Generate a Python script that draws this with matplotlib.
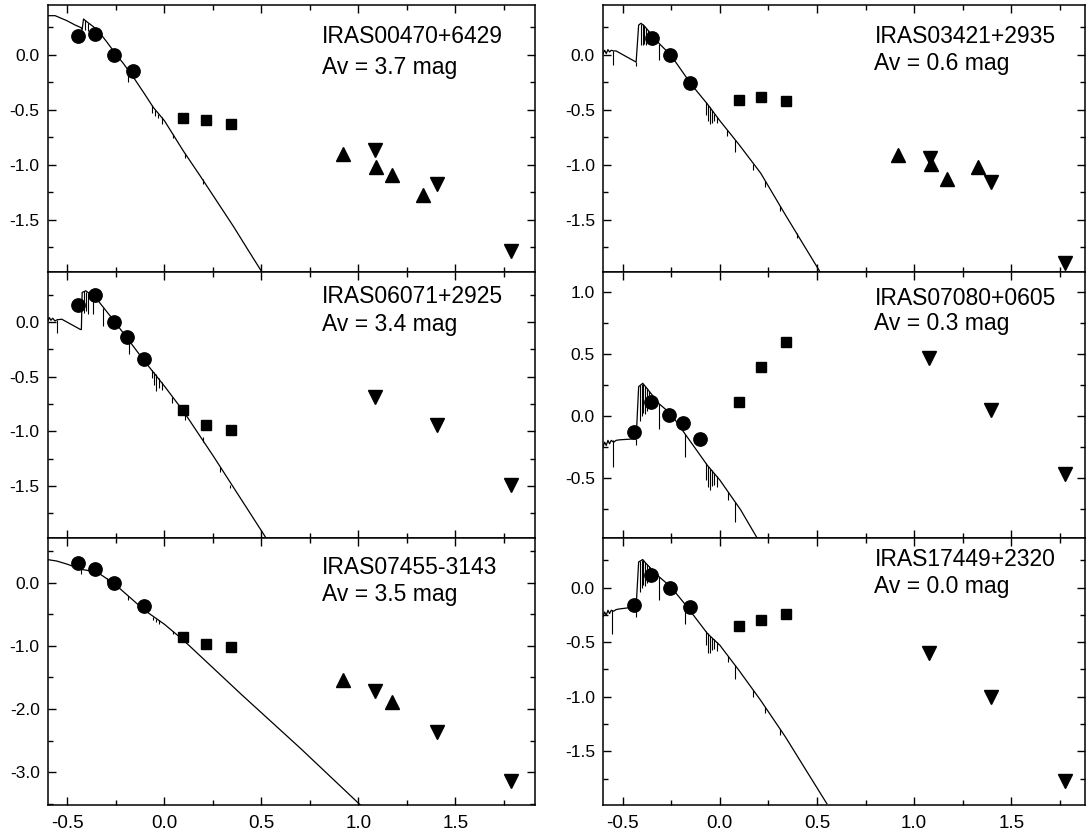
import numpy as np
import matplotlib
matplotlib.use('Agg')
import matplotlib.pyplot as plt
from matplotlib.ticker import MultipleLocator, FormatStrFormatter

plt.rcParams['font.family'] = ['Liberation Sans', 'DejaVu Sans']
plt.rcParams['axes.unicode_minus'] = False

# log(lambda) of the J, H, K bands
jhk_x = [0.097, 0.212, 0.342]

# ---------------- IRAS00470+6429 ----------------
opt1_x = [-0.443, -0.357, -0.259, -0.16]
opt1_y = [0.168, 0.19, 0.0, -0.15]
nir1_y = [-0.571, -0.593, -0.626]
up1_x = [0.923, 1.09, 1.172, 1.335]
up1_y = [-0.906, -1.02, -1.096, -1.273]
dn1_x = [1.086, 1.404, 1.786]
dn1_y = [-0.87, -1.176, -1.786]
mod1_x = [-0.60, -0.563, -0.503, -0.46, -0.43, -0.424, -0.417, -0.40, -0.366, -0.331,
          -0.297, -0.259, -0.211, -0.16, -0.108, -0.057, 0.0, 0.098, 0.184, 0.27,
          0.356, 0.43, 0.505]
mod1_y = [0.353, 0.353, 0.308, 0.268, 0.245, 0.225, 0.323, 0.298, 0.253, 0.192,
          0.115, 0.024, -0.082, -0.205, -0.342, -0.48, -0.60, -0.876, -1.10, -1.33,
          -1.56, -1.77, -1.98]
lin1_x = [-0.409, -0.392, -0.366, -0.186, -0.065, -0.05, -0.035, -0.014, 0.042, 0.105, 0.197]
lin1_top = [0.31, 0.285, 0.253, -0.14, -0.46, -0.50, -0.54, -0.565, -0.72, -0.89, -1.13]
lin1_bot = [0.22, 0.21, 0.21, -0.25, -0.53, -0.56, -0.58, -0.632, -0.76, -0.94, -1.17]

# ---------------- IRAS06071+2925 ----------------
opt2_x = [-0.446, -0.357, -0.259, -0.194, -0.103]
opt2_y = [0.153, 0.245, 0.0, -0.135, -0.342]
nir2_y = [-0.81, -0.945, -0.988]
dn2_x = [1.086, 1.404, 1.786]
dn2_y = [-0.688, -0.939, -1.495]
mod2_x = [-0.601, -0.593, -0.585, -0.576, -0.564, -0.553, -0.529, -0.435, -0.428, -0.424,
          -0.405, -0.348, -0.259, -0.194, -0.103, 0.0, 0.098, 0.253, 0.425, 0.525]
mod2_y = [0.009, 0.04, 0.015, 0.034, 0.009, 0.02, 0.025, -0.067, -0.07, 0.27,
          0.285, 0.208, 0.009, -0.144, -0.358, -0.587, -0.817, -1.23, -1.704, -1.98]
lin2_x = [-0.555, -0.414, -0.404, -0.392, -0.366, -0.314, -0.182, -0.065, -0.055, -0.045,
          -0.03, -0.015, 0.041, 0.106, 0.2, 0.286, 0.337]
lin2_top = [0.02, 0.28, 0.275, 0.265, 0.245, 0.13, -0.17, -0.44, -0.46, -0.48,
            -0.51, -0.55, -0.683, -0.835, -1.05, -1.33, -1.49]
lin2_bot = [-0.098, 0.085, 0.10, 0.07, 0.07, -0.037, -0.297, -0.51, -0.58, -0.63,
            -0.60, -0.62, -0.74, -0.90, -1.10, -1.37, -1.52]

# ---------------- IRAS07455-3143 ----------------
opt3_x = [-0.443, -0.357, -0.259, -0.103]
opt3_y = [0.316, 0.221, 0.0, -0.374]
nir3_y = [-0.859, -0.98, -1.017]
up3_x = [0.92, 1.172]
up3_y = [-1.54, -1.89]
dn3_x = [1.086, 1.404, 1.786]
dn3_y = [-1.72, -2.365, -3.14]
mod3_x = [-0.601, -0.555, -0.50, -0.443, -0.43, -0.348, -0.259, -0.103, 0.0, 0.098,
          0.40, 0.70, 1.01]
mod3_y = [0.363, 0.341, 0.29, 0.225, 0.21, 0.167, -0.016, -0.437, -0.66, -0.912,
          -1.78, -2.62, -3.52]
lin3_x = [-0.43, -0.297, -0.186, -0.06, -0.045, -0.03, 0.042]
lin3_top = [0.21, 0.07, -0.21, -0.55, -0.58, -0.6, -0.77]
lin3_bot = [0.142, 0.01, -0.28, -0.60, -0.62, -0.65, -0.82]

# ---------------- IRAS03421+2935 ----------------
opt4_x = [-0.351, -0.257, -0.153]
opt4_y = [0.152, 0.0, -0.26]
nir4_y = [-0.412, -0.388, -0.425]
up4_x = [0.919, 1.085, 1.167, 1.329]
up4_y = [-0.907, -0.993, -1.13, -1.023]
dn4_x = [1.081, 1.397, 1.777]
dn4_y = [-0.938, -1.16, -1.893]
mod4_x = [-0.602, -0.593, -0.585, -0.576, -0.568, -0.559, -0.547, -0.534, -0.525, -0.431,
          -0.418, -0.406, -0.389, -0.312, -0.252, -0.149, -0.064, 0.0, 0.098, 0.21,
          0.338, 0.517]
mod4_y = [0.009, 0.039, 0.009, 0.045, 0.024, 0.039, 0.033, 0.033, 0.024, -0.068,
          0.268, 0.284, 0.26, 0.10, -0.006, -0.266, -0.449, -0.60, -0.815, -1.075,
          -1.456, -1.975]
lin4_x = [-0.551, -0.431, -0.405, -0.398, -0.39, -0.382, -0.372, -0.362, -0.312, -0.175,
          -0.072, -0.062, -0.05, -0.04, -0.028, -0.015, 0.038, 0.079, 0.173, 0.233,
          0.31, 0.395]
lin4_top = [0.035, -0.068, 0.28, 0.275, 0.26, 0.245, 0.225, 0.205, 0.10, -0.20,
            -0.43, -0.455, -0.48, -0.50, -0.535, -0.565, -0.683, -0.773, -0.99, -1.145,
            -1.37, -1.62]
lin4_bot = [-0.098, -0.10, 0.09, 0.085, 0.10, 0.09, 0.11, 0.13, -0.046, -0.297,
            -0.55, -0.60, -0.63, -0.62, -0.60, -0.62, -0.74, -0.88, -1.05, -1.20,
            -1.42, -1.66]

# ---------------- IRAS07080+0605 ----------------
opt5_x = [-0.444, -0.354, -0.26, -0.192, -0.102]
opt5_y = [-0.129, 0.113, 0.005, -0.062, -0.193]
nir5_y = [0.113, 0.388, 0.595]
dn5_x = [1.078, 1.397, 1.777]
dn5_y = [0.464, 0.046, -0.474]
mod5_x = [-0.602, -0.593, -0.585, -0.576, -0.568, -0.559, -0.547, -0.534, -0.517, -0.431,
          -0.418, -0.397, -0.38, -0.312, -0.252, -0.192, -0.064, 0.0, 0.107, 0.193]
mod5_y = [-0.255, -0.215, -0.241, -0.20, -0.228, -0.20, -0.215, -0.20, -0.196, -0.187,
          0.233, 0.26, 0.228, 0.094, 0.013, -0.12, -0.402, -0.52, -0.76, -0.99]
lin5_x = [-0.551, -0.431, -0.41, -0.402, -0.394, -0.386, -0.376, -0.366, -0.312, -0.18,
          -0.072, -0.062, -0.05, -0.04, -0.028, -0.015, 0.042, 0.079]
lin5_top = [-0.20, -0.187, 0.245, 0.255, 0.255, 0.24, 0.22, 0.20, 0.094, -0.146,
            -0.385, -0.405, -0.43, -0.44, -0.46, -0.49, -0.614, -0.697]
lin5_bot = [-0.415, -0.24, -0.04, 0.0, 0.02, 0.01, 0.04, 0.06, -0.107, -0.335,
            -0.52, -0.58, -0.60, -0.57, -0.56, -0.58, -0.683, -0.855]

# ---------------- IRAS17449+2320 ----------------
opt6_x = [-0.444, -0.354, -0.257, -0.153]
opt6_y = [-0.156, 0.113, -0.003, -0.177]
nir6_y = [-0.351, -0.293, -0.238]
dn6_x = [1.078, 1.397, 1.777]
dn6_y = [-0.602, -0.998, -1.771]
mod6_x = [-0.602, -0.593, -0.585, -0.576, -0.568, -0.559, -0.547, -0.534, -0.517, -0.431,
          -0.418, -0.397, -0.38, -0.312, -0.252, -0.175, -0.064, 0.0, 0.098, 0.21,
          0.338, 0.423, 0.551]
mod6_y = [-0.269, -0.224, -0.254, -0.208, -0.238, -0.208, -0.217, -0.202, -0.196, -0.177,
          0.234, 0.256, 0.22, 0.097, 0.005, -0.162, -0.421, -0.528, -0.757, -1.032,
          -1.368, -1.612, -1.978]
lin6_x = [-0.554, -0.431, -0.41, -0.402, -0.394, -0.386, -0.376, -0.366, -0.312, -0.18,
          -0.072, -0.062, -0.05, -0.04, -0.028, -0.015, 0.042, 0.079, 0.173, 0.233, 0.31]
lin6_top = [-0.21, -0.177, 0.245, 0.25, 0.25, 0.235, 0.215, 0.195, 0.097, -0.15,
            -0.40, -0.42, -0.445, -0.46, -0.475, -0.50, -0.625, -0.71, -0.94, -1.09, -1.295]
lin6_bot = [-0.421, -0.27, -0.04, 0.0, 0.02, 0.01, 0.04, 0.06, -0.116, -0.33,
            -0.53, -0.60, -0.60, -0.57, -0.56, -0.58, -0.681, -0.836, -1.0, -1.15, -1.35]

names = ['IRAS00470+6429', 'IRAS03421+2935', 'IRAS06071+2925',
         'IRAS07080+0605', 'IRAS07455-3143', 'IRAS17449+2320']
av = [3.7, 0.6, 3.4, 0.3, 3.5, 0.0]

panels = [
    (opt1_x, opt1_y, nir1_y, up1_x, up1_y, dn1_x, dn1_y, mod1_x, mod1_y, lin1_x, lin1_top, lin1_bot),
    (opt4_x, opt4_y, nir4_y, up4_x, up4_y, dn4_x, dn4_y, mod4_x, mod4_y, lin4_x, lin4_top, lin4_bot),
    (opt2_x, opt2_y, nir2_y, [], [], dn2_x, dn2_y, mod2_x, mod2_y, lin2_x, lin2_top, lin2_bot),
    (opt5_x, opt5_y, nir5_y, [], [], dn5_x, dn5_y, mod5_x, mod5_y, lin5_x, lin5_top, lin5_bot),
    (opt3_x, opt3_y, nir3_y, up3_x, up3_y, dn3_x, dn3_y, mod3_x, mod3_y, lin3_x, lin3_top, lin3_bot),
    (opt6_x, opt6_y, nir6_y, [], [], dn6_x, dn6_y, mod6_x, mod6_y, lin6_x, lin6_top, lin6_bot),
]

ylims = [(-1.97, 0.45), (-1.97, 0.45), (-1.98, 0.46), (-0.99, 1.16), (-3.52, 0.70), (-1.99, 0.45)]
ymajor = [0.5, 0.5, 0.5, 0.5, 1.0, 0.5]
xlims = [(-0.60, 1.91), (-0.60, 1.88)]

# layout in pixels (figure is 1086 x 832 at 100 dpi)
W, H = 1086.0, 832.0
col_px = [(48, 535), (603.3, 1085)]
top_px, bot_px = 5, 805
row_h = (bot_px - top_px) / 3.0
# baseline of the two text lines, pixels below the top of each panel
txt_off = [(38, 69), (38, 65), (31, 59), (33, 58), (36, 63), (28, 55)]

fig = plt.figure(figsize=(W / 100, H / 100), dpi=100)

for i, p in enumerate(panels):
    row, col = divmod(i, 2)
    x0, x1 = col_px[col]
    y_top = top_px + row * row_h
    ax = fig.add_axes([x0 / W, 1 - (y_top + row_h) / H, (x1 - x0) / W, row_h / H])
    (ox, oy, ny, ux, uy, dx, dy, mx, my, lx, ltop, lbot) = p

    ax.plot(mx, my, color='black', lw=0.9, zorder=2)
    ax.vlines(lx, lbot, ltop, color='black', lw=0.8, zorder=2)
    ax.plot(ox, oy, 'o', color='black', ms=9.6, zorder=3)
    ax.plot(jhk_x, ny, 's', color='black', ms=7.7, zorder=3)
    if ux:
        ax.plot(ux, uy, '^', color='black', ms=10, zorder=3)
    ax.plot(dx, dy, 'v', color='black', ms=10, zorder=3)

    ax.set_xlim(*xlims[col])
    ax.set_ylim(*ylims[i])
    ax.xaxis.set_major_locator(MultipleLocator(0.5))
    ax.xaxis.set_minor_locator(MultipleLocator(0.25))
    ax.yaxis.set_major_locator(MultipleLocator(ymajor[i]))
    ax.yaxis.set_minor_locator(MultipleLocator(ymajor[i] / 2))
    ax.xaxis.set_major_formatter(FormatStrFormatter('%.1f'))
    ax.yaxis.set_major_formatter(FormatStrFormatter('%.1f'))
    ax.tick_params(which='both', direction='in', top=True, right=True, width=1.0, colors='black')
    ax.tick_params(which='major', length=6)
    ax.tick_params(which='minor', length=3.5)
    ax.tick_params(axis='y', labelsize=12.5, pad=6)
    ax.tick_params(axis='x', labelsize=13.5, pad=7)
    if row < 2:
        ax.tick_params(labelbottom=False)
    for s in ax.spines.values():
        s.set_linewidth(1.1)

    t1, t2 = txt_off[i]
    ax.annotate(names[i], xy=(0.563, 1.0), xycoords='axes fraction',
                xytext=(0, -t1 * 0.72), textcoords='offset points',
                va='baseline', ha='left', fontsize=16.5)
    ax.annotate('Av = %.1f mag' % av[i], xy=(0.563, 1.0), xycoords='axes fraction',
                xytext=(0, -t2 * 0.72), textcoords='offset points',
                va='baseline', ha='left', fontsize=16.5)

fig.savefig('out.png', dpi=100)
